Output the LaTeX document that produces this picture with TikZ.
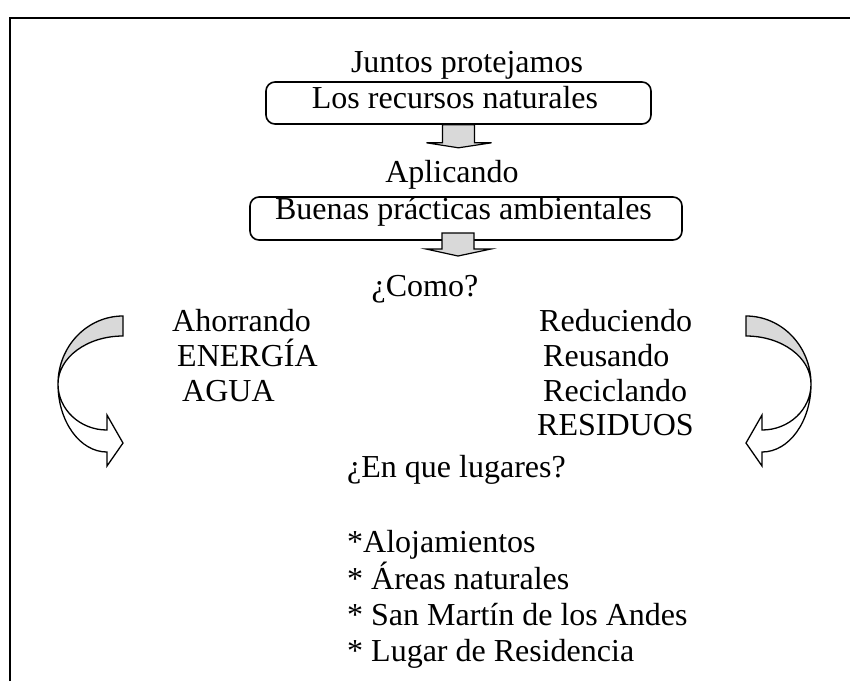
\documentclass[tikz,border=0pt]{standalone}
\usepackage{fontspec}
\setmainfont{Liberation Serif}
\begin{document}
\begin{tikzpicture}[x=1pt,y=-1pt,
  txt/.style={inner sep=0pt, font=\fontsize{32}{36}\selectfont},
  pbox/.style={draw, line width=1.6pt, rounded corners=9pt, inner sep=0pt},
  blockarrow/.style={draw, line width=1.2pt, fill=gray!30, line join=miter},
  curvarrow/.pic={
    \draw[line width=1.3pt, fill=white, line join=miter] (-65,0) arc[start angle=180,end angle=90,x radius=49,y radius=68] -- (-16,82) -- (0,59) -- (-16,31) -- (-16,46) arc[start angle=90,end angle=180,x radius=49,y radius=46] -- cycle;
    \draw[line width=1.3pt, fill=gray!30, line join=miter] (0,-68) arc[start angle=270,end angle=180,x radius=65,y radius=68] arc[start angle=180,end angle=270,x radius=65,y radius=48] -- cycle;
  }]
\useasboundingbox (0,0) rectangle (850,681);
% frame
\draw[line width=2pt] (10,681) -- (10,18) -- (850,18);
% title and boxes
\node[txt, anchor=base] (juntos) at (467,72) {Juntos protejamos};
\node[pbox, minimum width=385pt, minimum height=42pt] (b1) at (458.5,103) {};
\node[txt, anchor=base] (recursos) at (455,108) {Los recursos naturales};
\node[txt, anchor=base] (aplicando) at (452,182) {Aplicando};
\node[pbox, minimum width=432pt, minimum height=43pt] (b2) at (466,218.5) {};
\node[txt, anchor=base] (buenas) at (463.5,219) {Buenas prácticas ambientales};
% block arrows
\begin{scope}[shift={(b1.south)}]
\draw[blockarrow] (-16,0) -- (16,0) -- (16,18) -- (33,18) -- (0,23) -- (-32,18) -- (-16,18) -- cycle;
\end{scope}
\begin{scope}[shift={(458,240)}]
\draw[blockarrow] (-16,-7) -- (16,-7) -- (16,9) -- (33,9) -- (0,16) -- (-32,9) -- (-16,9) -- cycle;
\end{scope}
\node[txt, anchor=base] (como) at (425,296) {¿Como?};
% left column
\node[txt, anchor=base west] (ahorrando) at (172,331) {Ahorrando};
\node[txt, anchor=base west] (energia) at (177,366) {ENERGÍA};
\node[txt, anchor=base west] (agua) at (182,401) {AGUA};
% right column
\node[txt, anchor=base west] (reduciendo) at (539,331) {Reduciendo};
\node[txt, anchor=base west] (reusando) at (543,366) {Reusando};
\node[txt, anchor=base west] (reciclando) at (543,401) {Reciclando};
\node[txt, anchor=base west] (residuos) at (537,435) {RESIDUOS};
% places
\node[txt, anchor=base west] (lugares) at (347,477) {¿En que lugares?};
\node[txt, anchor=base west] (l1) at (347,552) {*Alojamientos};
\node[txt, anchor=base west] (l2) at (347,589) {* Áreas naturales};
\node[txt, anchor=base west] (l3) at (347,625) {* San Martín de los Andes};
\node[txt, anchor=base west] (l4) at (347,661) {* Lugar de Residencia};
% curved arrows
\pic at (123,384) {curvarrow};
\pic[xscale=-1] at (746,384) {curvarrow};
\end{tikzpicture}
\end{document}
